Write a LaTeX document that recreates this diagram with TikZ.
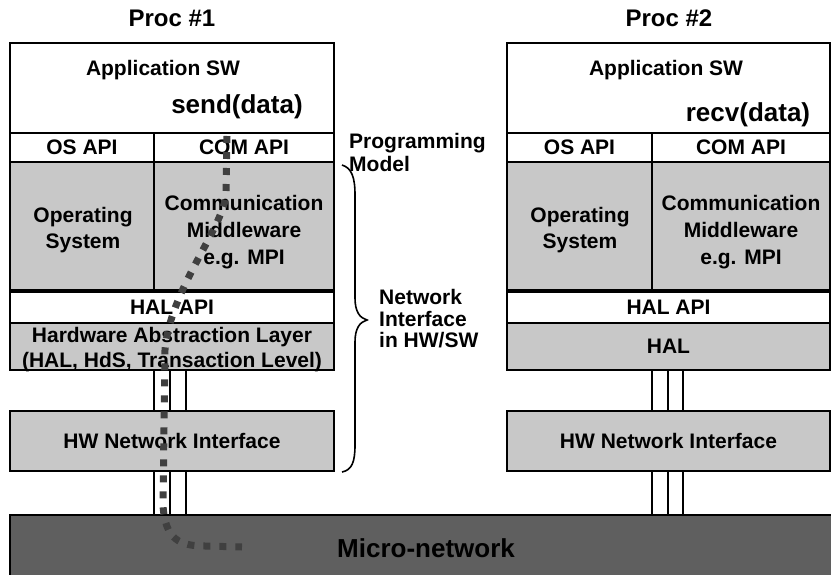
\documentclass[tikz,border=0pt]{standalone}
\usepackage{fontspec}
\setmainfont{Liberation Sans}
\definecolor{layergray}{HTML}{C8C8C8}
\definecolor{netgray}{HTML}{5F5F5F}
\definecolor{pathgray}{HTML}{404040}
\begin{document}
\begin{tikzpicture}[x=1pt,y=-1pt,
  box/.style={draw=black, line width=2pt, rectangle, inner sep=0pt, outer sep=0pt,
              align=center, font=\fontsize{21}{26}\selectfont\bfseries},
  lite/.style={box, fill=white},
  shade/.style={box, fill=layergray},
  txt/.style={inner sep=0pt, align=center, font=\fontsize{21}{26}\selectfont\bfseries},
  head/.style={inner sep=0pt, font=\fontsize{24}{28}\selectfont\bfseries},
  call/.style={inner sep=0pt, font=\fontsize{26}{30}\selectfont\bfseries},
  side/.style={inner sep=0pt, align=left, anchor=west},
  wire/.style={line width=2pt, black},
  flow/.style={line width=7pt, pathgray, dash pattern=on 7pt off 9pt, line cap=butt},
  brace/.style={line width=1.6pt, black}
]
\useasboundingbox (0,0) rectangle (831,575);

% ---- micro-network at the bottom
\node[box, fill=netgray, minimum width=830pt, minimum height=65pt] (micro) at (425,547.5) {};
\node[call] (microtxt) at (426,548) {Micro-network};

% ---- processor 1
\node[lite,  minimum width=324pt, minimum height=90pt]  (appL)    at (172,88) {};
\node[lite,  minimum width=144pt, minimum height=29pt]  (osapiL)  at (82,147.5) {OS API};
\node[lite,  minimum width=180pt, minimum height=29pt]  (comapiL) at (244,147.5) {COM API};
\node[shade, minimum width=144pt, minimum height=129pt] (osL)     at (82,226.5) {};
\node[shade, minimum width=180pt, minimum height=129pt] (mwL)     at (244,226.5) {};
\node[lite,  minimum width=324pt, minimum height=32pt]  (halapiL) at (172,307) {HAL API};
\node[shade, minimum width=324pt, minimum height=47pt]  (halL)    at (172,346.5) {};
\node[shade, minimum width=324pt, minimum height=60pt]  (hwniL)   at (172,441) {HW Network Interface};
\draw[line width=3.5pt] (osL.south west) -- (mwL.south east);

\node[txt] (osLtxt)  at (83,230) {Operating\\System};
\node[txt, font=\fontsize{21}{27}\selectfont\bfseries] (mwLtxt) at (244,232) {Communication\\Middleware\\e.g. MPI};
\node[txt, font=\fontsize{21}{25}\selectfont\bfseries] (halLtxt) at (172,350) {Hardware Abstraction Layer\\(HAL, HdS, Transaction Level)};

\node[head] (proc1) at (172,18) {Proc \#1};
\node[txt]  (appL1) at (163,70) {Application SW};
\node[call] (send)  at (237,107) {send(data)};

% ---- processor 2
\node[lite,  minimum width=323pt, minimum height=90pt]  (appR)    at (668.5,88) {};
\node[lite,  minimum width=145pt, minimum height=29pt]  (osapiR)  at (579.5,147.5) {OS API};
\node[lite,  minimum width=178pt, minimum height=29pt]  (comapiR) at (741,147.5) {COM API};
\node[shade, minimum width=145pt, minimum height=129pt] (osR)     at (579.5,226.5) {};
\node[shade, minimum width=178pt, minimum height=129pt] (mwR)     at (741,226.5) {};
\node[lite,  minimum width=323pt, minimum height=32pt]  (halapiR) at (668.5,307) {HAL API};
\node[shade, minimum width=323pt, minimum height=47pt]  (halR)    at (668.5,346.5) {HAL};
\node[shade, minimum width=323pt, minimum height=60pt]  (hwniR)   at (668.5,441) {HW Network Interface};
\draw[line width=3.5pt] (osR.south west) -- (mwR.south east);

\node[txt] (osRtxt)  at (580,230) {Operating\\System};
\node[txt, font=\fontsize{21}{27}\selectfont\bfseries] (mwRtxt) at (741,232) {Communication\\Middleware\\e.g. MPI};

\node[head] (proc2) at (669,18) {Proc \#2};
\node[txt]  (appR1) at (666,70) {Application SW};
\node[call] (recv)  at (748,115) {recv(data)};

% ---- bus wires between the layers
\foreach \name/\x in {a/154,b/170,c/186,d/652,e/668,f/683} {
  \coordinate (w\name) at (\x,0);
}
\foreach \name in {a,b,c} {
  \draw[wire] (halL.south -| w\name) -- (hwniL.north -| w\name);
  \draw[wire] (hwniL.south -| w\name) -- (micro.north -| w\name);
}
\foreach \name in {d,e,f} {
  \draw[wire] (halR.south -| w\name) -- (hwniR.north -| w\name);
  \draw[wire] (hwniR.south -| w\name) -- (micro.north -| w\name);
}

% ---- side labels and brace
\node[side, font=\fontsize{21}{23}\selectfont\bfseries] (pm) at (349,152) {Programming\\Model};
\node[side, font=\fontsize{21}{21.5}\selectfont\bfseries] (ni) at (379,319) {Network\\Interface\\in HW/SW};
\draw[brace] (342,165) .. controls (352,168) and (355,178) .. (355,195)
  -- (355,298) .. controls (355,312) and (360,318) .. (367,320)
  .. controls (360,322) and (355,328) .. (355,342)
  -- (355,445) .. controls (355,462) and (352,470) .. (342,472);

% ---- path of the message from send() down into the network
\coordinate (flowtop) at (227,136);
\coordinate (flowend) at (242,547);
\draw[flow] (flowtop) -- (226,195) .. controls (222,230) and (170,290) .. (165,350)
  -- (163,505) .. controls (165,540) and (180,546) .. (205,546) -- (flowend);
\end{tikzpicture}
\end{document}
